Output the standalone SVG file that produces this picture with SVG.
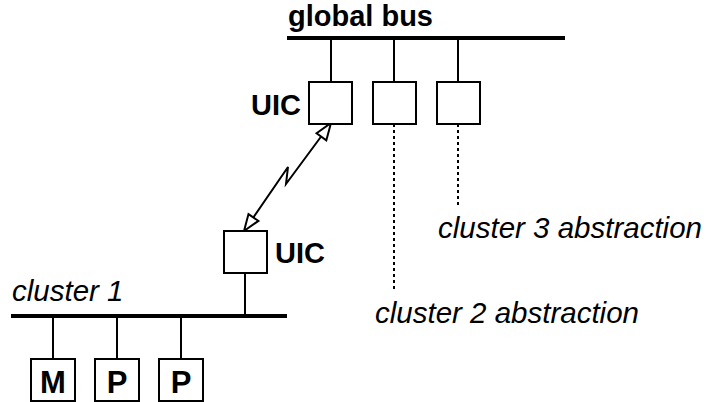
<svg xmlns="http://www.w3.org/2000/svg" width="708" height="402" viewBox="0 0 708 402">
<style>
.bus{stroke:#000;stroke-width:4;fill:none}
.ln{stroke:#000;stroke-width:2;fill:none}
.dot{stroke:#000;stroke-width:2;fill:none;stroke-dasharray:3 3}
.box{stroke:#000;stroke-width:2;fill:#fff}
.head{stroke:#000;stroke-width:2;fill:#fff;stroke-linejoin:miter}
.b{font-family:"Liberation Sans",Arial,sans-serif;font-weight:bold;font-size:29px;fill:#000}
.m{font-family:"Liberation Sans",Arial,sans-serif;font-weight:bold;font-size:31px;fill:#000;text-anchor:middle}
.i{font-family:"Liberation Sans",Arial,sans-serif;font-style:italic;font-size:29.5px;fill:#000}
</style>
<g id="connectors">
<line class="ln" x1="331" y1="38" x2="331" y2="82"/>
<line class="ln" x1="394" y1="38" x2="394" y2="82"/>
<line class="ln" x1="458" y1="38" x2="458" y2="82"/>
<line class="dot" x1="394" y1="124" x2="394" y2="292"/>
<line class="dot" x1="458" y1="124" x2="458" y2="207"/>
<line class="ln" x1="245" y1="273" x2="245" y2="316"/>
<line class="ln" x1="53" y1="316" x2="53" y2="359"/>
<line class="ln" x1="117" y1="316" x2="117" y2="359"/>
<line class="ln" x1="181" y1="316" x2="181" y2="359"/>
<path class="ln" d="M253,218 L288,167 L286,184 L321.5,136"/>
<polygon class="head" points="331,123 326.3,140.4 316.6,133.3"/>
<polygon class="head" points="244,231 258.4,220.9 248.5,214.1"/>
</g>
<g id="global-bus">
<line class="bus" x1="287" y1="38" x2="565" y2="38"/>
<text class="b" x="288" y="26">global bus</text>
</g>
<g id="uic-global">
<rect class="box" x="309" y="82" width="43" height="42"/>
<text class="b" x="251" y="115">UIC</text>
</g>
<g id="cluster2-box">
<rect class="box" x="373" y="82" width="43" height="42"/>
</g>
<g id="cluster3-box">
<rect class="box" x="437" y="82" width="43" height="42"/>
</g>
<g id="cluster2-label">
<text class="i" x="375" y="323">cluster 2 abstraction</text>
</g>
<g id="cluster3-label">
<text class="i" x="438" y="238">cluster 3 abstraction</text>
</g>
<g id="uic-cluster1">
<rect class="box" x="224" y="231" width="43" height="42"/>
<text class="b" x="275" y="263">UIC</text>
</g>
<g id="cluster1-bus">
<line class="bus" x1="11" y1="316" x2="287" y2="316"/>
<text class="i" x="12" y="301">cluster 1</text>
</g>
<g id="node-m">
<rect class="box" x="31" y="359" width="44" height="42"/>
<text class="m" x="53" y="393">M</text>
</g>
<g id="node-p1">
<rect class="box" x="95" y="359" width="44" height="42"/>
<text class="m" x="117" y="393">P</text>
</g>
<g id="node-p2">
<rect class="box" x="159" y="359" width="44" height="42"/>
<text class="m" x="181" y="393">P</text>
</g>
</svg>
